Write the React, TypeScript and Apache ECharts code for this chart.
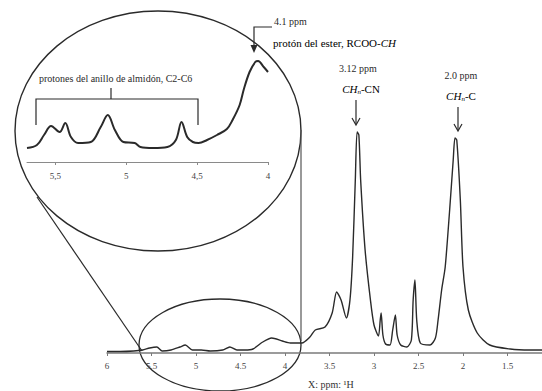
import React, { useEffect, useRef } from "react";
import * as echarts from "echarts";

// Main spectrum (ppm, relative intensity)
const mainPpm = [6.0, 5.85, 5.7, 5.6, 5.52, 5.44, 5.38, 5.28, 5.18, 5.12, 5.04, 4.94, 4.84, 4.7, 4.62, 4.54, 4.45, 4.36, 4.25, 4.15, 4.03, 3.94, 3.81, 3.72, 3.66, 3.55, 3.47, 3.42, 3.37, 3.31, 3.27, 3.24, 3.21, 3.19, 3.17, 3.15, 3.1, 3.04, 3.0, 2.95, 2.93, 2.92, 2.9, 2.87, 2.82, 2.79, 2.76, 2.74, 2.7, 2.63, 2.58, 2.56, 2.54, 2.52, 2.48, 2.37, 2.31, 2.28, 2.24, 2.2, 2.15, 2.11, 2.09, 2.07, 2.03, 2.0, 1.94, 1.84, 1.7, 1.47, 1.25, 1.0];
const mainIntensity = [1.5, 1.5, 2, 3, 5, 6, 2, 3, 6, 8, 3, 3, 2, 3, 6, 3, 3, 4, 11, 15, 12, 10, 10, 16, 23, 26, 40, 61, 53, 35, 53, 96, 173, 221, 218, 173, 103, 53, 28, 17, 33, 40, 18, 9, 8, 23, 38, 18, 8, 6, 13, 53, 73, 33, 10, 8, 15, 33, 63, 86, 143, 193, 215, 213, 153, 86, 43, 20, 8, 4, 3, 3];

// Inset (zoom of 5.7 - 4.0 ppm)
const insetPpm = [5.7, 5.63, 5.58, 5.53, 5.47, 5.43, 5.39, 5.34, 5.25, 5.18, 5.13, 5.08, 5.02, 4.94, 4.9, 4.81, 4.71, 4.65, 4.61, 4.57, 4.53, 4.49, 4.43, 4.36, 4.29, 4.25, 4.2, 4.17, 4.13, 4.09, 4.07, 4.03, 4.0];
const insetIntensity = [14, 17, 27, 36, 30, 39, 25, 19, 20, 35, 47, 32, 20, 19, 15, 14, 15, 22, 40, 25, 20, 19, 22, 27, 33, 42, 57, 73, 90, 100, 101, 95, 90];

const mainTicks = [6, 5.5, 5, 4.5, 4, 3.5, 3, 2.5, 2, 1.5];
const insetTicks = [5.5, 5, 4.5, 4];
const xAxisName = "X: ppm: ¹H";

const SERIF = "Liberation Serif";
const INK = "#2a2a2a";

export default function App() {
  const ref = useRef<HTMLDivElement>(null);
  useEffect(() => {
    if (!ref.current) return;
    const chart = echarts.init(ref.current, undefined, { renderer: "svg" });
    const mainData = mainPpm.map((p, i) => [p, mainIntensity[i]]);
    const insetData = insetPpm.map((p, i) => [p, insetIntensity[i]]);
    const richCH = {
      i: { fontStyle: "italic", fontFamily: SERIF, fontSize: 11, color: INK },
      n: { fontStyle: "normal", fontFamily: SERIF, fontSize: 11, color: INK },
      sub: { fontStyle: "italic", fontFamily: SERIF, fontSize: 7, color: INK, padding: [5, 0, 0, 0] },
    };
    chart.setOption({
      animation: false,
      backgroundColor: "#ffffff",
      textStyle: { fontFamily: SERIF },
      grid: [
        { left: 107, right: 8, top: 120, bottom: 38, outerBoundsMode: "none", containLabel: false },
        { left: 27, width: 241, top: 50, bottom: 229, outerBoundsMode: "none", containLabel: false },
      ],
      xAxis: [
        {
          gridIndex: 0,
          type: "value",
          inverse: true,
          min: 1,
          max: 6,
          interval: 0.5,
          splitLine: { show: false },
          axisLine: { lineStyle: { color: "#7a7a7a", width: 1.5 } },
          axisTick: { length: 3, lineStyle: { color: "#7a7a7a" } },
          axisLabel: {
            fontFamily: SERIF,
            fontSize: 9,
            color: "#444",
            margin: 8,
            showMinLabel: false,
            formatter: (v: number) => (mainTicks.includes(v) ? String(v) : ""),
          },
        },
        {
          gridIndex: 1,
          type: "value",
          inverse: true,
          min: 4,
          max: 5.7,
          interval: 0.5,
          splitLine: { show: false },
          axisLine: { lineStyle: { color: "#8a8a8a", width: 1 } },
          axisTick: { length: 3, lineStyle: { color: "#8a8a8a" } },
          axisLabel: {
            fontFamily: SERIF,
            fontSize: 9,
            color: "#444",
            margin: 9,
            showMaxLabel: false,
            formatter: (v: number) => (insetTicks.includes(v) ? String(v).replace(".", ",") : ""),
          },
        },
      ],
      yAxis: [
        { gridIndex: 0, type: "value", min: 0, max: 233, show: false },
        { gridIndex: 1, type: "value", min: 0, max: 112, show: false },
      ],
      series: [
        {
          type: "line",
          xAxisIndex: 0,
          yAxisIndex: 0,
          data: mainData,
          showSymbol: false,
          smooth: 0.25,
          lineStyle: { color: INK, width: 1.4 },
        },
        {
          type: "line",
          xAxisIndex: 1,
          yAxisIndex: 1,
          data: insetData,
          showSymbol: false,
          smooth: 0.35,
          lineStyle: { color: INK, width: 2 },
        },
      ],
      graphic: [
        { type: "ellipse", shape: { cx: 158, cy: 131, rx: 143, ry: 120 }, style: { fill: "none", stroke: INK, lineWidth: 1.4 } },
        { type: "ellipse", shape: { cx: 220, cy: 345, rx: 81, ry: 46 }, style: { fill: "none", stroke: INK, lineWidth: 1.3 } },
        { type: "line", shape: { x1: 37, y1: 197, x2: 142, y2: 351 }, style: { stroke: INK, lineWidth: 1.2 } },
        { type: "line", shape: { x1: 301, y1: 130, x2: 301, y2: 341 }, style: { stroke: "#555", lineWidth: 1.2 } },
        // bracket
        { type: "polyline", shape: { points: [[36, 125], [36, 99], [198, 99], [198, 125]] }, style: { fill: "none", stroke: INK, lineWidth: 1.2 } },
        { type: "line", shape: { x1: 111, y1: 99, x2: 111, y2: 88 }, style: { stroke: INK, lineWidth: 1.2 } },
        { type: "text", x: 39, y: 78, style: { text: "protones del anillo de almidón, C2-C6", fontFamily: SERIF, fontSize: 10, fill: INK, verticalAlign: "middle" } },
        // 4.1 ppm arrow
        { type: "polyline", shape: { points: [[272, 27], [254, 27], [254, 49]] }, style: { fill: "none", stroke: INK, lineWidth: 1.2 } },
        { type: "polygon", shape: { points: [[250.5, 45], [257.5, 45], [254, 53]] }, style: { fill: INK } },
        { type: "text", x: 274, y: 21, style: { text: "4.1 ppm", fontFamily: SERIF, fontSize: 10, fill: INK, verticalAlign: "middle" } },
        {
          type: "text", x: 273, y: 43,
          style: { text: "{n|protón del ester, RCOO-}{i|CH}", rich: richCH, verticalAlign: "middle" },
        },
        // 3.12 ppm
        { type: "text", x: 358, y: 68, style: { text: "3.12 ppm", fontFamily: SERIF, fontSize: 10, fill: INK, align: "center", verticalAlign: "middle" } },
        { type: "text", x: 361, y: 89, style: { text: "{i|CH}{sub|n}{n|-CN}", rich: richCH, align: "center", verticalAlign: "middle" } },
        { type: "line", shape: { x1: 356, y1: 100, x2: 356, y2: 124 }, style: { stroke: INK, lineWidth: 1.2 } },
        { type: "polyline", shape: { points: [[352, 118], [356, 125], [360, 118]] }, style: { fill: "none", stroke: INK, lineWidth: 1.2 } },
        // 2.0 ppm
        { type: "text", x: 461, y: 75, style: { text: "2.0 ppm", fontFamily: SERIF, fontSize: 10, fill: INK, align: "center", verticalAlign: "middle" } },
        { type: "text", x: 461, y: 96, style: { text: "{i|CH}{sub|n}{n|-C}", rich: richCH, align: "center", verticalAlign: "middle" } },
        { type: "line", shape: { x1: 458, y1: 107, x2: 458, y2: 130 }, style: { stroke: INK, lineWidth: 1.2 } },
        { type: "polyline", shape: { points: [[454, 124], [458, 131], [462, 124]] }, style: { fill: "none", stroke: INK, lineWidth: 1.2 } },
        // axis name
        { type: "text", x: 308, y: 384, style: { text: xAxisName, fontFamily: SERIF, fontSize: 10, fill: "#333", verticalAlign: "middle" } },
      ],
    });
    return () => chart.dispose();
  }, []);
  return (
    <div style={{ position: "fixed", left: 0, top: 0, width: 542, height: 391, overflow: "hidden", background: "#fff" }}>
      <div ref={ref} style={{ width: 560, height: 391 }} />
    </div>
  );
}
